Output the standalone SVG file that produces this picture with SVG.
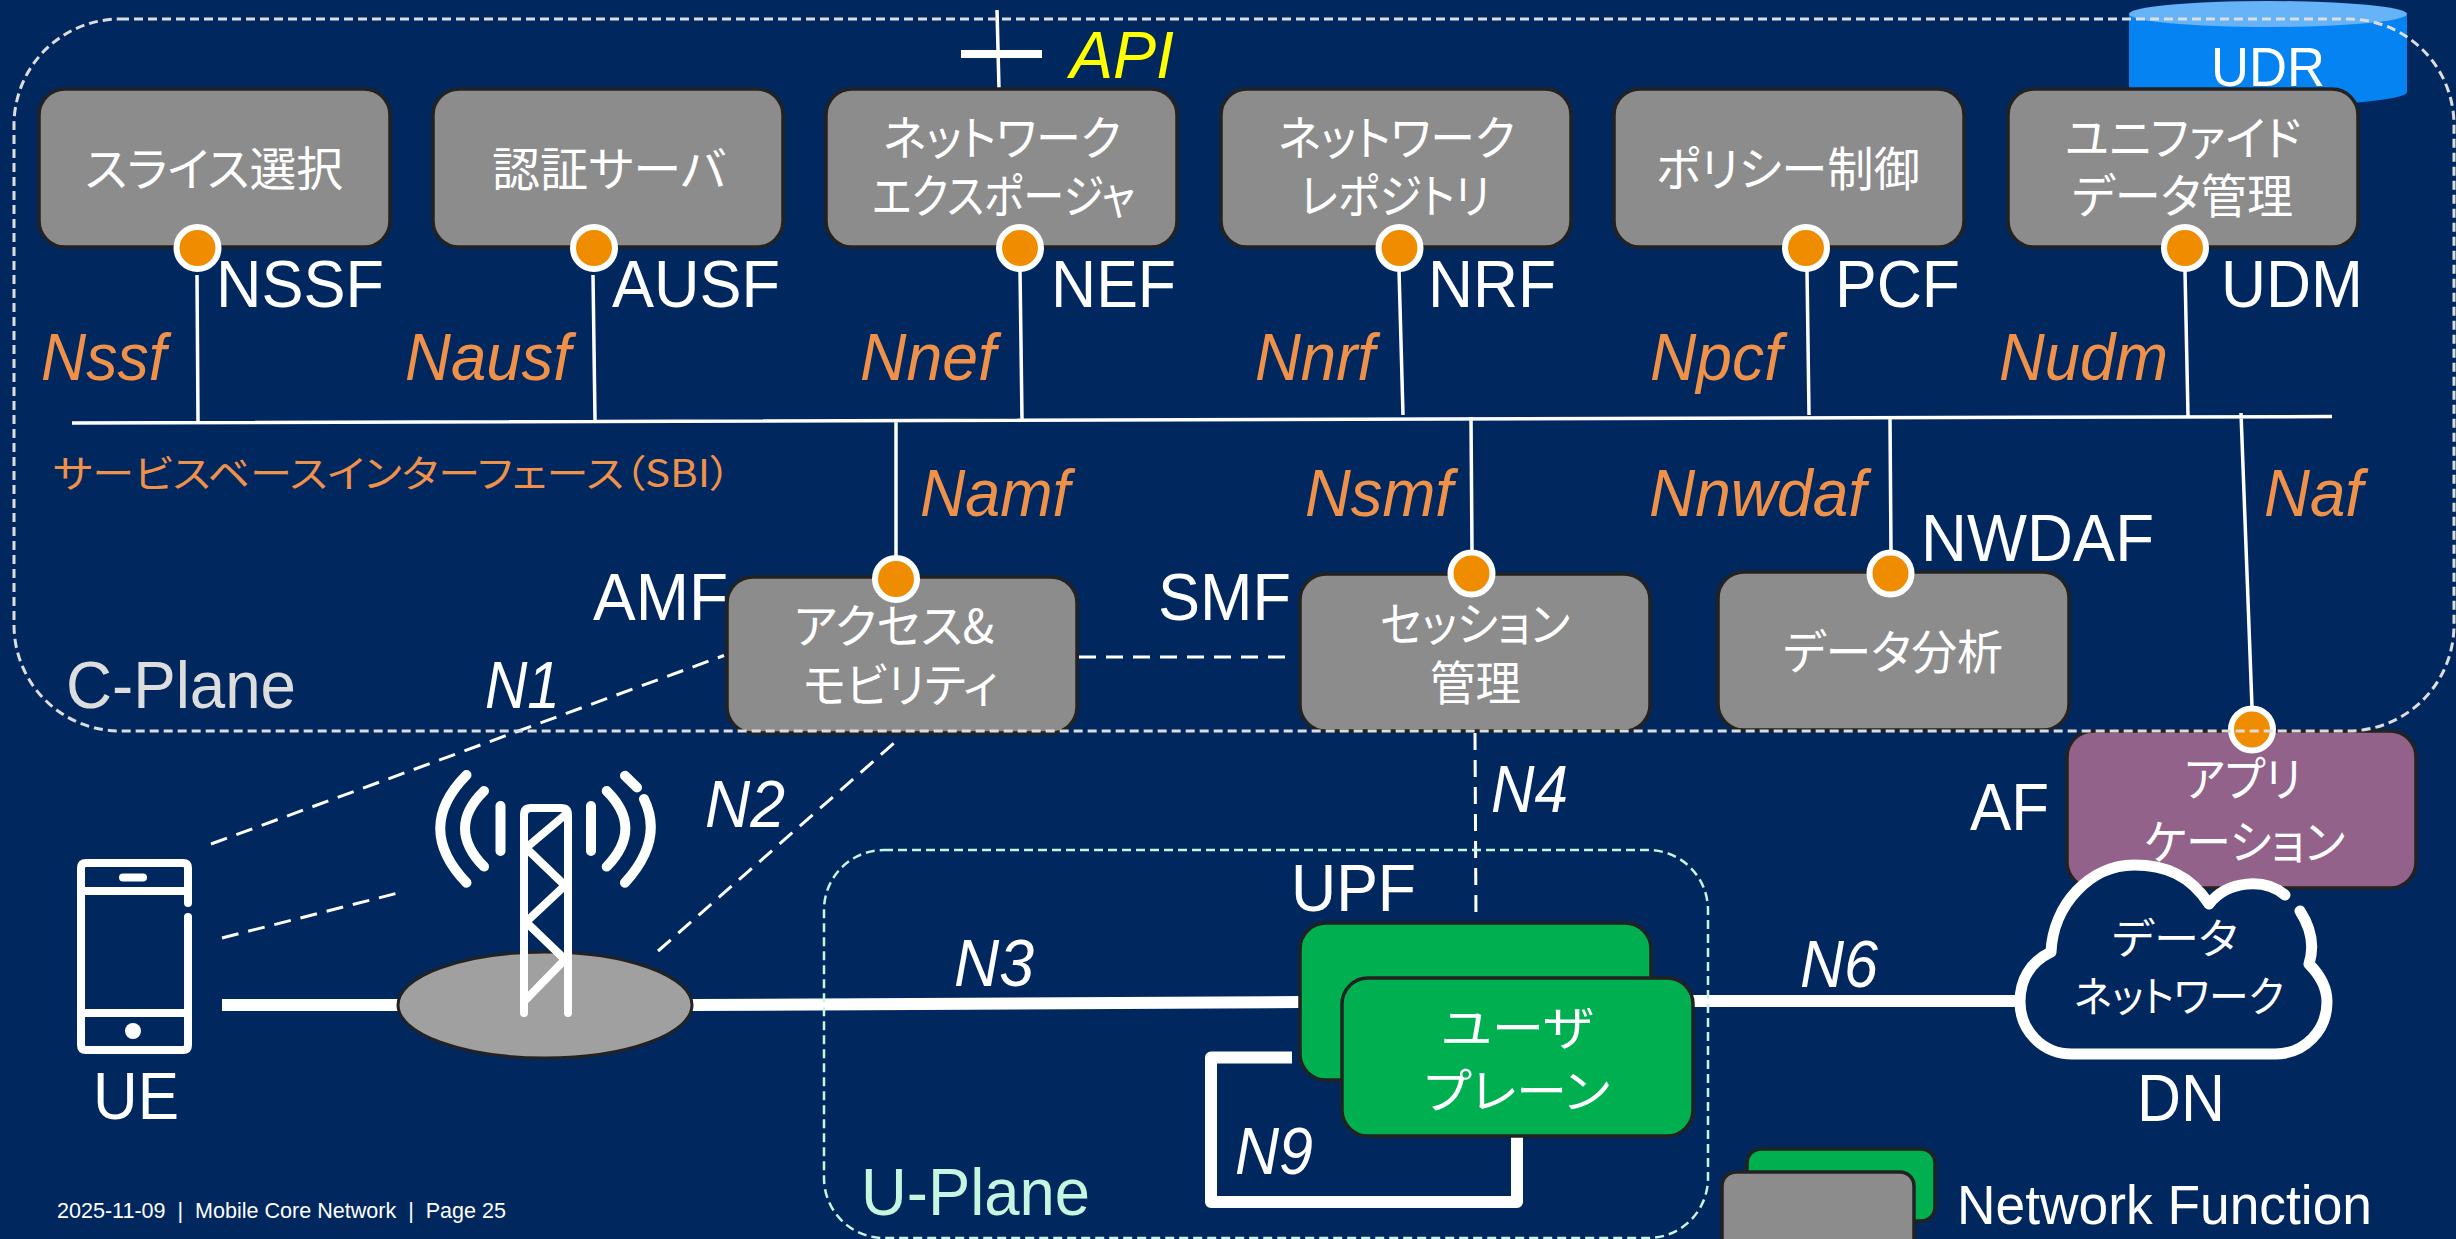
<svg xmlns="http://www.w3.org/2000/svg" width="2456" height="1239" viewBox="0 0 2456 1239">
<style>
text{font-family:"Liberation Sans","Noto Sans CJK JP",sans-serif;fill:#fff}
.nf{fill:#8c8c8c;stroke:#222;stroke-width:3.500}
.up{fill:#00b050;stroke:#222;stroke-width:3.500}
.dot{fill:#f08c00;stroke:#fff;stroke-width:6}
.l{font-size:66px}
.o{font-size:66px;font-style:italic;fill:#f0914a}
.n{font-size:66px;font-style:italic}
.j{font-size:47px;font-family:"Noto Sans CJK JP","Liberation Sans",sans-serif;font-feature-settings:"palt"}
.thin{stroke:#fff;stroke-width:3.500;fill:none}
.thick{stroke:#fff;stroke-width:12;fill:none}
.dash{stroke:#fff;stroke-width:3;fill:none;stroke-dasharray:17 10}
.ic{stroke:#fff;stroke-width:8;fill:none;stroke-linecap:round;stroke-linejoin:round}
</style>
<rect width="2456" height="1239" fill="#00285e"/>
<g id="udr">
<path d="M2129 14V92C2129 100 2200 106 2268 106S2407 100 2407 92V14Z" fill="#0583f2"/>
<ellipse cx="2268" cy="14" rx="139" ry="13" fill="#66b3f7"/>
<text x="2211" y="86" font-size="55" textLength="114" lengthAdjust="spacingAndGlyphs">UDR</text>
</g>
<g id="connectors">
<path class="thin" d="M72 423L2332 416.500M197 275L198 421M593 275L595 420M1020 270L1022 419M1399 270L1403 415M1807 270L1809 415M2185 271L2188 416M896 422V556M1471 417L1472 552M1890 418L1891 552M2241 413L2252 707M997 10L999 89"/>
<path d="M961 54H1042" stroke="#fff" stroke-width="8"/>
<path class="dash" d="M211 844L724 655.500M222 938L396 893.500M658 951L901 737M1079 657H1291M1475 733L1476 922"/>
<path class="thick" d="M222 1005H398M692 1005L1300 1002M1693 1001H2017"/>
<path class="thick" stroke-linejoin="round" d="M1292 1057.500H1211V1202H1517V1137"/>
</g>
<g id="ue">
<path class="ic" stroke-width="7" d="M188 903V868Q188 863 183 863H86Q81 863 81 868V1045Q81 1050 86 1050H183Q188 1050 188 1045V917M81 891H188M81 1013H188M123 877.500H143"/>
<circle cx="133" cy="1031" r="8" fill="#fff"/>
<text class="l" x="93" y="1119" textLength="86" lengthAdjust="spacingAndGlyphs">UE</text>
</g>
<g id="gnb">
<ellipse cx="545" cy="1005" rx="147" ry="53" fill="#a0a0a0" stroke="#222" stroke-width="3"/>
<path class="ic" stroke-width="9" d="M524 1013V815Q524 808 531 808H561Q568 808 568 815V1013M565 815L526 848L565 885.500L526 922L565 959.500L526 999.500"/>
<path class="ic" style="stroke-width:10" d="M500.500 806V851M591 806V851M484 791Q446 828 484 866.600M606.700 791Q644 828 606.700 866.600M466.500 775Q414 828 466.500 882.700M625 775.700L637 787.500M644 799Q664 840 625 882.700"/>
</g>
<g id="nssf"><rect class="nf" x="39" y="89" width="351" height="158" rx="26"/><text class="j" x="85" y="186" textLength="258" lengthAdjust="spacingAndGlyphs">スライス選択</text><circle class="dot" cx="197.500" cy="248" r="21"/><text class="l" x="216" y="307" textLength="168" lengthAdjust="spacingAndGlyphs">NSSF</text><text class="o" x="41" y="380" textLength="125" lengthAdjust="spacingAndGlyphs">Nssf</text></g>
<g id="ausf"><rect class="nf" x="433" y="89" width="350" height="158" rx="26"/><text class="j" x="492" y="186" textLength="234" lengthAdjust="spacingAndGlyphs">認証サーバ</text><circle class="dot" cx="594" cy="248" r="21"/><text class="l" x="612" y="307" textLength="168" lengthAdjust="spacingAndGlyphs">AUSF</text><text class="o" x="405" y="380" textLength="166" lengthAdjust="spacingAndGlyphs">Nausf</text></g>
<g id="nef"><rect class="nf" x="826" y="89" width="351" height="158" rx="26"/><text class="j" x="883" y="155" textLength="238" lengthAdjust="spacingAndGlyphs">ネットワーク</text><text class="j" x="872" y="213" textLength="263" lengthAdjust="spacingAndGlyphs">エクスポージャ</text><circle class="dot" cx="1020" cy="248" r="21"/><text class="l" x="1051" y="307" textLength="125" lengthAdjust="spacingAndGlyphs">NEF</text><text class="o" x="860" y="380" textLength="136" lengthAdjust="spacingAndGlyphs">Nnef</text></g>
<g id="nrf"><rect class="nf" x="1221" y="89" width="350" height="158" rx="26"/><text class="j" x="1278" y="155" textLength="237" lengthAdjust="spacingAndGlyphs">ネットワーク</text><text class="j" x="1300" y="213" textLength="190" lengthAdjust="spacingAndGlyphs">レポジトリ</text><circle class="dot" cx="1399.500" cy="248" r="21"/><text class="l" x="1428" y="307" textLength="128" lengthAdjust="spacingAndGlyphs">NRF</text><text class="o" x="1255" y="380" textLength="120" lengthAdjust="spacingAndGlyphs">Nnrf</text></g>
<g id="pcf"><rect class="nf" x="1614" y="89" width="350" height="158" rx="26"/><text class="j" x="1656" y="186" textLength="264" lengthAdjust="spacingAndGlyphs">ポリシー制御</text><circle class="dot" cx="1806" cy="248" r="21"/><text class="l" x="1835" y="307" textLength="125" lengthAdjust="spacingAndGlyphs">PCF</text><text class="o" x="1650" y="380" textLength="132" lengthAdjust="spacingAndGlyphs">Npcf</text></g>
<g id="udm"><rect class="nf" x="2008" y="89" width="350" height="158" rx="26"/><text class="j" x="2065" y="155" textLength="236" lengthAdjust="spacingAndGlyphs">ユニファイド</text><text class="j" x="2072" y="213" textLength="221" lengthAdjust="spacingAndGlyphs">データ管理</text><circle class="dot" cx="2185" cy="248" r="21"/><text class="l" x="2221" y="307" textLength="142" lengthAdjust="spacingAndGlyphs">UDM</text><text class="o" x="1999" y="380" textLength="169" lengthAdjust="spacingAndGlyphs">Nudm</text></g>
<text id="sbi" x="53" y="487" font-size="38" textLength="678" lengthAdjust="spacingAndGlyphs" style="fill:#f0914a;font-family:'Noto Sans CJK JP','Liberation Sans',sans-serif;font-feature-settings:'palt'">サービスベースインターフェース（SBI）</text>
<g id="amf"><rect class="nf" x="727" y="577" width="350" height="156" rx="26"/><text class="j" x="794" y="643" textLength="200" lengthAdjust="spacingAndGlyphs">アクセス&amp;</text><text class="j" x="803" y="702" textLength="195" lengthAdjust="spacingAndGlyphs">モビリティ</text><circle class="dot" cx="896" cy="579" r="21"/><text class="l" x="593" y="620" textLength="135" lengthAdjust="spacingAndGlyphs">AMF</text><text class="o" x="920" y="516" textLength="150" lengthAdjust="spacingAndGlyphs">Namf</text></g>
<g id="smf"><rect class="nf" x="1300" y="574" width="350" height="157" rx="26"/><text class="j" x="1380" y="641" textLength="190" lengthAdjust="spacingAndGlyphs">セッション</text><text class="j" x="1430" y="700" textLength="91" lengthAdjust="spacingAndGlyphs">管理</text><circle class="dot" cx="1471.500" cy="573.500" r="21"/><text class="l" x="1158" y="620" textLength="133" lengthAdjust="spacingAndGlyphs">SMF</text><text class="o" x="1305" y="516" textLength="148" lengthAdjust="spacingAndGlyphs">Nsmf</text></g>
<g id="nwdaf"><rect class="nf" x="1718" y="572" width="351" height="158" rx="26"/><text class="j" x="1783" y="669" textLength="220" lengthAdjust="spacingAndGlyphs">データ分析</text><circle class="dot" cx="1890.500" cy="573.500" r="21"/><text class="l" x="1921" y="561" textLength="233" lengthAdjust="spacingAndGlyphs">NWDAF</text><text class="o" x="1649" y="516" textLength="217" lengthAdjust="spacingAndGlyphs">Nnwdaf</text></g>
<g id="af"><rect x="2067" y="731" width="349" height="157" rx="26" fill="#93628a" stroke="#222" stroke-width="3.500"/><text class="j" x="2184" y="796" textLength="117" lengthAdjust="spacingAndGlyphs">アプリ</text><text class="j" x="2144" y="859" textLength="201" lengthAdjust="spacingAndGlyphs">ケーション</text><circle class="dot" cx="2252" cy="729.500" r="21"/><text class="l" x="1970" y="830" textLength="79" lengthAdjust="spacingAndGlyphs">AF</text><text class="o" x="2264" y="516" textLength="99" lengthAdjust="spacingAndGlyphs">Naf</text></g>
<g id="upf"><rect class="up" x="1300" y="923" width="351" height="157" rx="26"/><rect class="up" x="1342" y="978" width="351" height="158" rx="26"/><text class="j" x="1441" y="1045" textLength="152" lengthAdjust="spacingAndGlyphs">ユーザ</text><text class="j" x="1424" y="1108" textLength="186" lengthAdjust="spacingAndGlyphs">プレーン</text><text class="l" x="1291" y="911" textLength="125" lengthAdjust="spacingAndGlyphs">UPF</text></g>
<g id="dn"><path d="M2285 895C2265 878 2228 880 2209 904C2190 875 2165 865 2134 865C2090 865 2053 905 2051 952C2030 962 2020 980 2020 1002C2020 1030 2042 1054 2072 1054H2275C2305 1054 2327 1030 2327 1002C2327 987 2320 975 2309 964C2315 945 2311 928 2300 911" fill="#00285e" stroke="#fff" stroke-width="11" stroke-linecap="round" stroke-linejoin="round"/><text class="j" x="2112" y="954" style="font-size:42px" textLength="126" lengthAdjust="spacingAndGlyphs">データ</text><text class="j" x="2074" y="1012" style="font-size:42px" textLength="210" lengthAdjust="spacingAndGlyphs">ネットワーク</text><text class="l" x="2137" y="1121" textLength="88" lengthAdjust="spacingAndGlyphs">DN</text></g>
<g id="labels">
<text class="n" x="485" y="708" textLength="75" lengthAdjust="spacingAndGlyphs">N1</text><text class="n" x="705" y="827" textLength="80" lengthAdjust="spacingAndGlyphs">N2</text><text class="n" x="954" y="986" textLength="80" lengthAdjust="spacingAndGlyphs">N3</text><text class="n" x="1491" y="812" textLength="77" lengthAdjust="spacingAndGlyphs">N4</text><text class="n" x="1800" y="987" textLength="78" lengthAdjust="spacingAndGlyphs">N6</text><text class="n" x="1235" y="1174" textLength="78" lengthAdjust="spacingAndGlyphs">N9</text>
<text x="1070" y="78" font-size="66" font-style="italic" style="fill:#ff0" textLength="104" lengthAdjust="spacingAndGlyphs">API</text>
<text x="66" y="708" font-size="66" style="fill:#ddd" textLength="230" lengthAdjust="spacingAndGlyphs">C-Plane</text>
<text x="861" y="1215" font-size="66" style="fill:#c6f5e0" textLength="229" lengthAdjust="spacingAndGlyphs">U-Plane</text>
</g>
<g id="legend"><rect class="up" x="1747" y="1149" width="188" height="72" rx="14"/><rect class="nf" x="1722" y="1172" width="192" height="100" rx="14"/><text x="1957" y="1224" font-size="55" textLength="415" lengthAdjust="spacingAndGlyphs">Network Function</text></g>
<g id="planes" fill="none">
<rect x="14" y="19" width="2440" height="712" rx="106" stroke="#ddd" stroke-width="3" stroke-dasharray="9 5"/>
<rect x="824" y="850" width="884" height="388" rx="60" stroke="#c6f5e0" stroke-width="2.500" stroke-dasharray="9 5"/>
</g>
<text id="footer" x="57" y="1218" font-size="22" textLength="449" lengthAdjust="spacingAndGlyphs" xml:space="preserve">2025-11-09  |  Mobile Core Network  |  Page 25</text>
</svg>
